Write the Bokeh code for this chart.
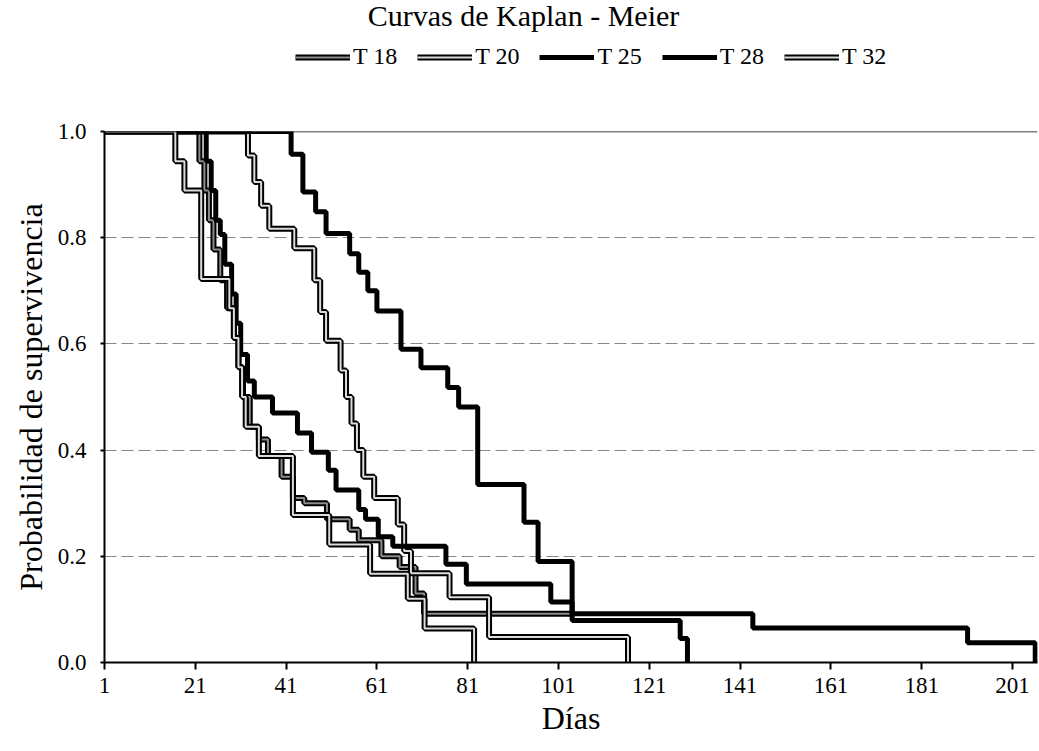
from bokeh.plotting import figure
from bokeh.layouts import column
from bokeh.models import Legend, LegendItem, FixedTicker, Span, CustomJSTickFormatter, Label, Range1d
from bokeh.embed import file_html
from bokeh.resources import INLINE

# ---- data (days, survival probability after each event) ----
t18_days = [21.9, 23.0, 24.0, 25.0, 26.5, 28.0, 29.5, 30.5, 31.5, 33.0, 35.0, 37.0, 40.0, 42.5, 45.0, 50.0, 55.0, 57.0, 62.0, 66.0, 69.5, 71.4, 104.0]
t18_surv = [0.944, 0.889, 0.833, 0.778, 0.72, 0.667, 0.611, 0.556, 0.5, 0.444, 0.42, 0.389, 0.35, 0.31, 0.30, 0.27, 0.25, 0.23, 0.20, 0.18, 0.13, 0.092, 0.092]

t20_days = [32.6, 34.0, 35.5, 37.3, 42.8, 47.2, 48.5, 49.8, 53.0, 54.2, 55.4, 56.6, 58.0, 60.4, 65.6, 67.0, 68.5, 77.0, 85.7, 116.3]
t20_surv = [0.955, 0.905, 0.86, 0.817, 0.78, 0.72, 0.66, 0.606, 0.55, 0.5, 0.45, 0.40, 0.35, 0.31, 0.26, 0.21, 0.168, 0.123, 0.048, 0.0]

t25_days = [42.1, 44.7, 47.5, 49.8, 55.0, 57.0, 59.0, 61.0, 66.3, 70.7, 76.6, 79.0, 83.2, 93.4, 96.5, 104.0, 143.8, 191.1, 206.0]
t25_surv = [0.957, 0.886, 0.849, 0.808, 0.77, 0.735, 0.70, 0.662, 0.59, 0.555, 0.518, 0.481, 0.335, 0.264, 0.19, 0.092, 0.065, 0.037, 0.0]

t28_days = [23.4, 24.5, 25.5, 26.5, 27.5, 29.0, 30.0, 31.0, 32.5, 34.0, 38.0, 43.5, 46.6, 50.3, 52.0, 57.0, 58.5, 61.3, 64.5, 76.2, 80.7, 99.3, 104.0, 127.8, 129.4]
t28_surv = [0.944, 0.889, 0.833, 0.806, 0.75, 0.694, 0.639, 0.58, 0.53, 0.5, 0.47, 0.432, 0.396, 0.362, 0.325, 0.288, 0.27, 0.237, 0.219, 0.185, 0.148, 0.114, 0.079, 0.045, 0.0]

t32_days = [16.6, 18.6, 22.3, 28.5, 29.5, 30.5, 31.3, 32.1, 35.0, 42.5, 50.5, 59.5, 67.8, 71.5, 82.4]
t32_surv = [0.944, 0.889, 0.722, 0.667, 0.611, 0.556, 0.5, 0.444, 0.389, 0.278, 0.222, 0.167, 0.12, 0.064, 0.0]

series_names = ["T 18", "T 20", "T 25", "T 28", "T 32"]
x_ticks = [1, 21, 41, 61, 81, 101, 121, 141, 161, 181, 201]
y_ticks = [0.0, 0.2, 0.4, 0.6, 0.8, 1.0]
title_text = "Curvas de Kaplan - Meier"
x_title = "Días"
y_title = "Probabilidad de supervivencia"

FONT = "Liberation Serif"
W = 1039
HEAD_H = 116
LEFT = 104
RIGHT = 2

# ---------------- header (title + legend) ----------------
head = figure(width=W, height=HEAD_H, output_backend="svg", toolbar_location=None,
              x_range=Range1d(LEFT, W - RIGHT), y_range=Range1d(HEAD_H, 0),
              min_border_left=LEFT, min_border_right=RIGHT,
              min_border_top=0, min_border_bottom=0)
head.axis.visible = False
head.grid.visible = False
head.outline_line_color = None
head.add_layout(Label(x=523, y=15, text=title_text, text_font=FONT, text_font_size="30px",
                      text_align="center", text_baseline="middle", text_color="black"))

# ---------------- main plot ----------------
p = figure(width=W, height=751 - HEAD_H, output_backend="svg", toolbar_location=None,
           x_range=(1, 206.5), y_range=(0, 1.0),
           min_border_left=LEFT, min_border_right=RIGHT, min_border_top=131 - HEAD_H, min_border_bottom=89)
p.outline_line_color = None
p.xgrid.grid_line_color = None
p.ygrid.grid_line_color = "#555555"
p.ygrid.grid_line_width = 1
p.ygrid.grid_line_dash = "12 5"
p.ygrid.grid_line_alpha = 0.7

p.xaxis.ticker = FixedTicker(ticks=x_ticks)
p.yaxis.ticker = FixedTicker(ticks=y_ticks)
p.xaxis.minor_tick_line_color = None
p.yaxis.minor_tick_line_color = None
p.yaxis.formatter = CustomJSTickFormatter(code="return tick.toFixed(1);")
for ax in (p.xaxis, p.yaxis):
    ax.axis_line_color = "black"
    ax.axis_line_width = 2
    ax.major_tick_line_color = "black"
    ax.major_tick_line_width = 2
    ax.major_label_text_font = FONT
    ax.major_label_text_font_size = "23px"
    ax.major_label_text_color = "black"
    ax.axis_label_text_font = FONT
    ax.axis_label_text_font_size = "32px"
    ax.axis_label_text_font_style = "normal"
    ax.axis_label_text_color = "black"
p.xaxis.major_tick_out = 7
p.xaxis.major_tick_in = 0
p.yaxis.major_tick_out = 4
p.yaxis.major_tick_in = 0
p.xaxis.major_label_standoff = 8
p.yaxis.major_label_standoff = 14
p.xaxis.axis_label = x_title
p.yaxis.axis_label = y_title
p.xaxis.axis_label_standoff = 4
p.yaxis.axis_label_standoff = 6

p.add_layout(Span(location=1.0, dimension="width", line_color="black", line_width=1.5))

data = [
    (t18_days, t18_surv, "gray_dark"),
    (t20_days, t20_surv, "gray"),
    (t25_days, t25_surv, "black"),
    (t28_days, t28_surv, "black"),
    (t32_days, t32_surv, "gray"),
]

def styled_step(fig, xs, ys, style):
    rs = []
    if style == "black":
        rs.append(fig.step(xs, ys, mode="after", line_color="black", line_width=5))
    else:
        rs.append(fig.step(xs, ys, mode="after", line_color="black", line_width=6))
        inner = "#8c8c8c" if style == "gray_dark" else "#dcdcdc"
        rs.append(fig.step(xs, ys, mode="after", line_color=inner, line_width=2))
    return rs

items = []
for name, (d, s, style) in zip(series_names, data):
    styled_step(p, [1] + d, [1.0] + s, style)
    # legend swatches in the header: same style, placed off-screen
    rs = styled_step(head, [-50, -40], [-50, -50], style)
    items.append(LegendItem(label=name, renderers=rs))

legend = Legend(items=items, orientation="horizontal", location=(191, 46),
                label_text_font=FONT, label_text_font_size="24px", label_text_color="black",
                glyph_width=55, glyph_height=20, label_standoff=3, spacing=20,
                padding=0, margin=0, border_line_color=None, background_fill_alpha=0)
head.add_layout(legend, "center")

layout = column(head, p, spacing=0)
open("out.html", "w").write(file_html(layout, INLINE))
